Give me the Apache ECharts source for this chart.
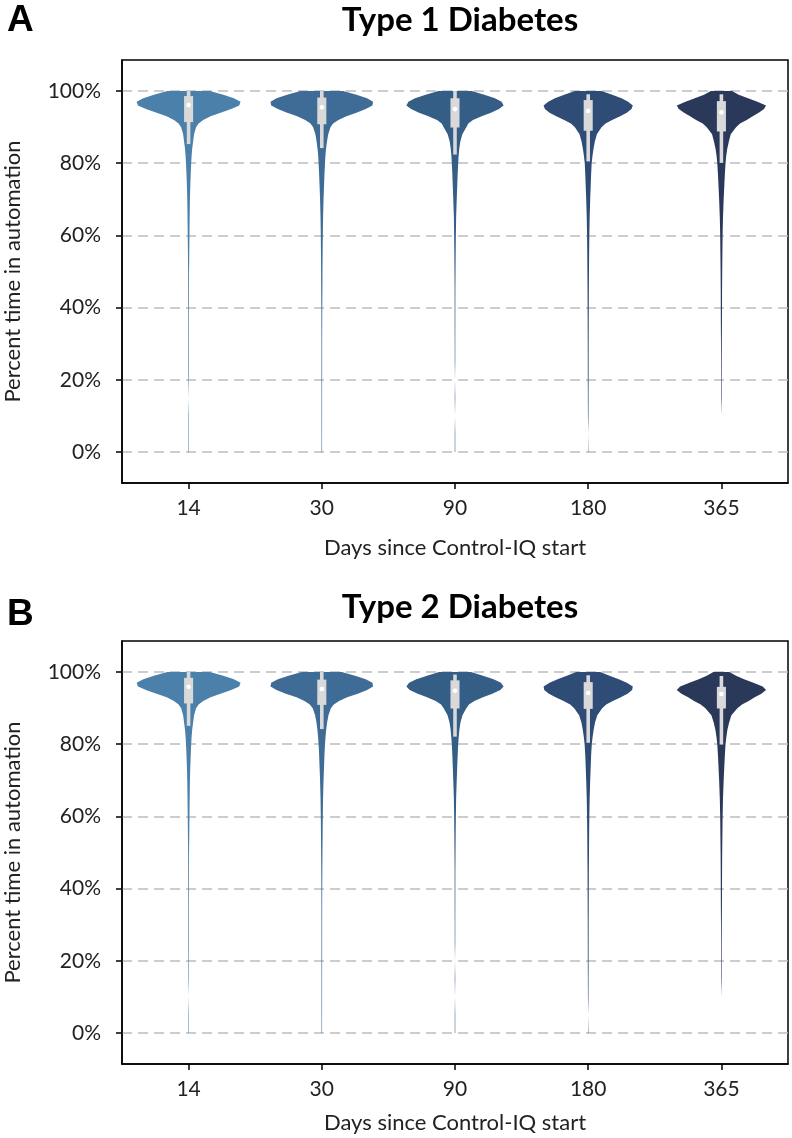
<!DOCTYPE html>
<html>
<head>
<meta charset="utf-8">
<script src="https://cdn.jsdelivr.net/npm/echarts@6/dist/echarts.min.js"></script>
<style>html,body{margin:0;padding:0;background:#fff}#c{width:792px;height:1138px}</style>
</head>
<body>
<div id="c"></div>
<script>
// ---------------- DATA ----------------
const categories = ['14', '30', '90', '180', '365'];
const yTicks = [0, 20, 40, 60, 80, 100];
// value levels (percent time in automation) at which the density was read
const levels = [100, 99, 98, 97, 96, 95, 94, 93, 92, 91, 90, 88, 86, 84, 82, 80, 77, 74, 70, 65, 60, 55, 50, 45, 40, 35, 30, 25, 20, 15, 10, 5, 0];

// Type 1 densities (relative units, one array per category)
const densT1_14  = [16, 26, 34, 39, 38, 32, 24, 16.5, 11, 7.5, 5.6, 4.1, 3.4, 2.7, 2.25, 1.95, 1.6, 1.3, 1.0, 0.8, 0.65, 0.5, 0.35, 0.3, 0.28, 0.26, 0.25, 0.24, 0.22, 0, 0.2, 0.2, 0.2];
const densT1_30  = [16, 26, 34, 38.5, 38, 33, 26, 18.5, 12.5, 8.5, 6.5, 4.8, 3.9, 3.2, 2.7, 2.4, 2.0, 1.7, 1.3, 0.95, 0.75, 0.6, 0.5, 0.45, 0.35, 0.3, 0.26, 0.25, 0.24, 0.22, 0.22, 0.2, 0.2];
const densT1_90  = [12.5, 22, 30, 35, 36.5, 33, 27, 20, 13.5, 10, 8.5, 5.5, 4, 3.2, 2.7, 2.4, 2.0, 1.7, 1.3, 0.85, 0.65, 0.5, 0.4, 0.3, 0.27, 0.25, 0.22, 0.2, 0, 0.2, 0, 0.2, 0.2];
const densT1_180 = [10, 18, 25, 30, 33.5, 32.5, 29, 24, 18, 13, 10, 6.5, 5, 4, 3.2, 2.6, 2.2, 1.9, 1.5, 1.1, 0.85, 0.7, 0.6, 0.5, 0.45, 0.4, 0.35, 0.32, 0.3, 0.25, 0.2, 0, 0.15];
const densT1_365 = [8, 13, 20, 27, 33.5, 32, 28, 23.5, 19, 14, 11, 7, 5.6, 4.4, 3.6, 3.1, 2.6, 2.2, 1.7, 1.2, 0.9, 0.75, 0.6, 0.5, 0.45, 0.4, 0.3, 0.25, 0.22, 0.2, 0, 0, 0];

// Type 2 densities
const densT2_14  = [16, 26, 34, 39, 38, 32, 24, 16.5, 11, 7.5, 5.6, 4.1, 3.4, 2.7, 2.25, 1.95, 1.6, 1.3, 1.0, 0.8, 0.65, 0.5, 0.35, 0.3, 0.28, 0.26, 0.25, 0.24, 0.22, 0.2, 0, 0.2, 0.2];
const densT2_30  = [15, 25, 33, 38, 38.5, 34, 27, 19, 13, 9, 6.8, 5, 4, 3.3, 2.8, 2.4, 2.0, 1.7, 1.3, 0.95, 0.75, 0.6, 0.5, 0.4, 0.32, 0.28, 0.26, 0.25, 0.24, 0.22, 0.22, 0.2, 0.2];
const densT2_90  = [12, 21, 29, 34.5, 36.5, 34, 28, 21, 14.5, 10.5, 8.5, 5.6, 4.1, 3.3, 2.8, 2.4, 2.0, 1.7, 1.3, 0.85, 0.65, 0.5, 0.4, 0.3, 0.27, 0.25, 0.22, 0.2, 0, 0.2, 0, 0.2, 0.2];
const densT2_180 = [9, 16, 23, 29, 33.5, 33, 29.5, 24.5, 18.5, 13.5, 10.5, 6.8, 5.1, 4.1, 3.3, 2.7, 2.2, 1.9, 1.5, 1.1, 0.85, 0.7, 0.6, 0.5, 0.45, 0.4, 0.35, 0.32, 0.3, 0.25, 0.2, 0, 0.15];
const densT2_365 = [6, 11, 17, 24, 31, 33.5, 30, 25, 20.5, 15.5, 12, 7.5, 5.8, 4.5, 3.7, 3.1, 2.6, 2.2, 1.7, 1.2, 0.9, 0.75, 0.6, 0.5, 0.45, 0.4, 0.3, 0.25, 0.22, 0.2, 0, 0, 0];

// inner box statistics (percent)
const whiskerHighT1 = [100, 100, 100, 99.1, 99.1];
const q3T1          = [98.6, 98.2, 98.0, 97.5, 97.2];
const medianT1      = [96.1, 95.5, 95.0, 94.5, 94.1];
const q1T1          = [91.4, 90.8, 89.9, 89.0, 88.8];
const whiskerLowT1  = [85.3, 84.2, 82.4, 80.5, 80.1];

const whiskerHighT2 = [100, 100, 99.3, 99.1, 98.9];
const q3T2          = [98.4, 97.9, 97.7, 97.2, 95.9];
const medianT2      = [95.9, 95.3, 94.8, 94.2, 93.9];
const q1T2          = [91.3, 90.9, 89.9, 89.8, 89.9];
const whiskerLowT2  = [85.1, 84.2, 82.1, 80.4, 79.9];

// ---------------- CHART ----------------
const palette = ['#4a80aa', '#3e6c96', '#355e87', '#2e4c75', '#2a385a'];
const panels = [
  { dens: [densT1_14, densT1_30, densT1_90, densT1_180, densT1_365],
    wh: whiskerHighT1, q3: q3T1, med: medianT1, q1: q1T1, wl: whiskerLowT1 },
  { dens: [densT2_14, densT2_30, densT2_90, densT2_180, densT2_365],
    wh: whiskerHighT2, q3: q3T2, med: medianT2, q1: q1T2, wl: whiskerLowT2 }
];

const FONT = 'Lato';
function makeRender(panel) {
  return function (params, api) {
    const i = api.value(0);
    const band = api.size([1, 0])[0];
    const cx = api.coord([i, 0])[0];
    const d = panel.dens[i];
    const right = [], left = [];
    for (let k = 0; k < levels.length; k++) {
      const y = api.coord([i, levels[k]])[1];
      const hw = d[k] / 100 * band;
      right.push([cx + hw, y]);
      left.unshift([cx - hw, y]);
    }
    const pts = right.concat(left);
    const yWH = api.coord([i, panel.wh[i]])[1];
    const yWL = api.coord([i, panel.wl[i]])[1];
    const yQ3 = api.coord([i, panel.q3[i]])[1];
    const yQ1 = api.coord([i, panel.q1[i]])[1];
    const yMed = api.coord([i, panel.med[i]])[1];
    const boxW = band * 0.068, whW = band * 0.027;
    return {
      type: 'group',
      children: [
        { type: 'polygon', shape: { points: pts }, style: { fill: palette[i], stroke: null } },
        { type: 'rect', shape: { x: cx - whW / 2, y: yWH, width: whW, height: yWL - yWH }, style: { fill: '#d9d9d9' } },
        { type: 'rect', shape: { x: cx - boxW / 2, y: yQ3, width: boxW, height: yQ1 - yQ3 }, style: { fill: '#d9d9d9' } },
        { type: 'circle', shape: { cx: cx, cy: yMed, r: 2.3 }, style: { fill: '#ffffff' } }
      ]
    };
  };
}

const grids = [
  { left: 122, top: 60, width: 666, height: 423 },
  { left: 122, top: 641, width: 666, height: 423 }
];
grids.forEach(g => {
  g.show = true; g.borderColor = '#000'; g.borderWidth = 1.5; g.backgroundColor = 'transparent';
  g.containLabel = false; g.outerBoundsMode = 'none';
});

const xAxes = [0, 1].map(gi => ({
  type: 'category', gridIndex: gi, data: categories, boundaryGap: true,
  name: 'Days since Control-IQ start', nameLocation: 'middle', nameGap: gi === 0 ? 54 : 48,
  nameTextStyle: { fontFamily: FONT, fontSize: 22, color: '#222' },
  axisLine: { show: true, onZero: false, lineStyle: { color: '#000', width: 1.5 } },
  axisTick: { show: true, alignWithLabel: true, length: 6, lineStyle: { color: '#000', width: 1.5 } },
  axisLabel: { fontFamily: FONT, fontSize: 21, color: '#222', margin: 15 },
  splitLine: { show: false }
}));
const yAxes = [0, 1].map(gi => ({
  type: 'value', gridIndex: gi, min: -8.6, max: 108.6,
  name: 'Percent time in automation', nameLocation: 'middle', nameGap: 98,
  nameTextStyle: { fontFamily: FONT, fontSize: 22, color: '#222' },
  axisLine: { show: true, lineStyle: { color: '#000', width: 1.5 } },
  axisTick: { show: true, length: 6, customValues: yTicks, lineStyle: { color: '#000', width: 1.5 } },
  axisLabel: { fontFamily: FONT, fontSize: 21, color: '#222', margin: 21, customValues: yTicks, formatter: v => v + '%' },
  splitLine: { show: true, lineStyle: { color: '#bdbdbd', width: 1.5, type: [10, 6] } }
}));

const chart = echarts.init(document.getElementById('c'), null, { renderer: 'canvas' });
chart.setOption({
  animation: false,
  backgroundColor: '#fff',
  title: [
    { text: 'Type 1 Diabetes', left: 455, top: -1, textAlign: 'center', textStyle: { fontFamily: FONT, fontWeight: 'bold', fontSize: 33, color: '#000' } },
    { text: 'Type 2 Diabetes', left: 455, top: 586, textAlign: 'center', textStyle: { fontFamily: FONT, fontWeight: 'bold', fontSize: 33, color: '#000' } },
    { text: 'A', left: 2, top: -3, textStyle: { fontFamily: 'Liberation Sans', fontWeight: 'bold', fontSize: 37, color: '#000' } },
    { text: 'B', left: 2, top: 591, textStyle: { fontFamily: 'Liberation Sans', fontWeight: 'bold', fontSize: 37, color: '#000' } }
  ],
  grid: grids,
  xAxis: xAxes,
  yAxis: yAxes,
  series: [0, 1].map(gi => ({
    type: 'custom', xAxisIndex: gi, yAxisIndex: gi,
    renderItem: makeRender(panels[gi]),
    data: categories.map((c, i) => [i]),
    clip: false, silent: true
  }))
});
</script>
</body>
</html>
